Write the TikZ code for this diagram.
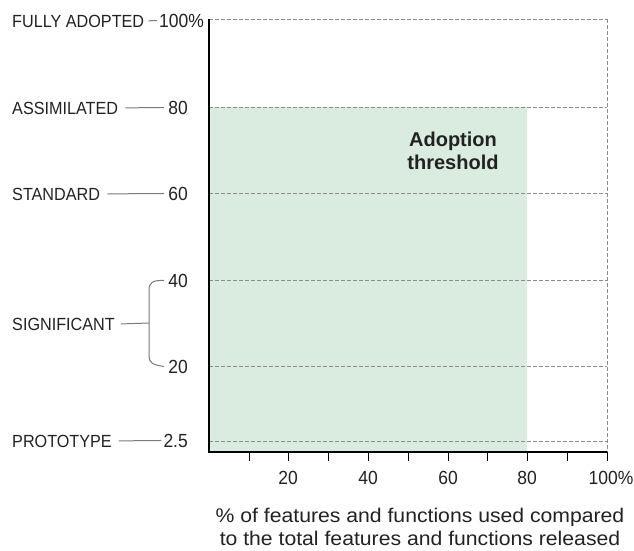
\documentclass[tikz,border=0pt]{standalone}
\usepackage{fontspec}
\setmainfont{Liberation Sans}
\newfontfamily\narrowfont[FakeStretch=0.92]{Liberation Sans}
\newfontfamily\widefont[FakeStretch=1.07]{Liberation Sans}
\definecolor{zonegreen}{HTML}{DAEBDF}
\definecolor{gridgray}{HTML}{8C8C8C}
\definecolor{linkgray}{HTML}{7A7A7A}
\definecolor{ink}{HTML}{222222}
\begin{document}
\begin{tikzpicture}[x=1pt,y=-1pt,
  every node/.style={inner sep=0pt, text=ink},
  levellabel/.style={anchor=base west, font=\narrowfont\fontsize{17.6}{20}\selectfont},
  levelvalue/.style={anchor=base east, font=\narrowfont\fontsize{19}{22}\selectfont},
  ticklabel/.style={anchor=base, font=\narrowfont\fontsize{19}{22}\selectfont},
  gridline/.style={draw=gridgray, line width=0.8pt, dash pattern=on 3.5pt off 2.5pt},
  axisline/.style={draw=black, line width=1.1pt},
  link/.style={draw=linkgray, line width=1pt},
  tickmark/.style={draw=black, line width=1pt}]
\useasboundingbox (0,0) rectangle (634,550);

% adoption zone
\fill[zonegreen] (209,107) rectangle (527,452);

% dashed level lines and right border
\foreach \yy in {19,107,193,280,366,441}
  \draw[gridline] (209,\yy) -- (607,\yy);
\draw[gridline] (607,19) -- (607,452);

% axes
\draw[axisline] (209,19) -- (209,452) -- (607,452);
\foreach \xx in {249,288,328,368,408,448,487,527,567,607}
  \draw[tickmark] (\xx,452) -- (\xx,461);

% x tick labels
\node[ticklabel] (x20) at (288,484) {20};
\node[ticklabel] (x40) at (368,484) {40};
\node[ticklabel] (x60) at (448,484) {60};
\node[ticklabel] (x80) at (527,484) {80};
\node[ticklabel] (x100) at (611,484) {100\%};

% level names
\node[levellabel] (full) at (12,27) {FULLY ADOPTED};
\node[levellabel] (assim) at (12,114) {ASSIMILATED};
\node[levellabel] (std) at (12,200) {STANDARD};
\node[levellabel] (sig) at (12,330) {SIGNIFICANT};
\node[levellabel] (proto) at (12,447) {PROTOTYPE};

% level values
\node[levelvalue] (v100) at (204,27) {100\%};
\node[levelvalue] (v80) at (188,114) {80};
\node[levelvalue] (v60) at (188,200) {60};
\node[levelvalue] (v40) at (188,287) {40};
\node[levelvalue] (v20) at (188,373) {20};
\node[levelvalue] (v25) at (188,447) {2.5};

% connectors between names and values
\draw[link, shorten <=4pt, shorten >=2pt] (full.east) -- (v100.west);
\draw[link, shorten <=7pt, shorten >=4pt] (assim.east) -- (v80.west);
\draw[link, shorten <=7pt, shorten >=4pt] (std.east) -- (v60.west);
\draw[link, shorten <=7pt, shorten >=2pt] (proto.east) -- (v25.west);

% bracket for the significant range
\coordinate (bracemid) at (149,323);
\draw[link] (sig.east) ++(6,0) -- (bracemid);
\draw[link] ([xshift=-4pt]v40.west) .. controls (152,280) and (149,283) .. (149,290)
  -- (149,356) .. controls (149,362) and (152,365) .. ([xshift=-4pt]v20.west);

% zone caption
\node[align=center, font=\bfseries\fontsize{20}{23}\selectfont] (zone) at (453,151)
  {Adoption\\threshold};

% axis caption
\node[align=center, font=\widefont\fontsize{19.8}{23.5}\selectfont] (xcap) at (420,527)
  {\% of features and functions used compared\\to the total features and functions released};
\end{tikzpicture}
\end{document}
